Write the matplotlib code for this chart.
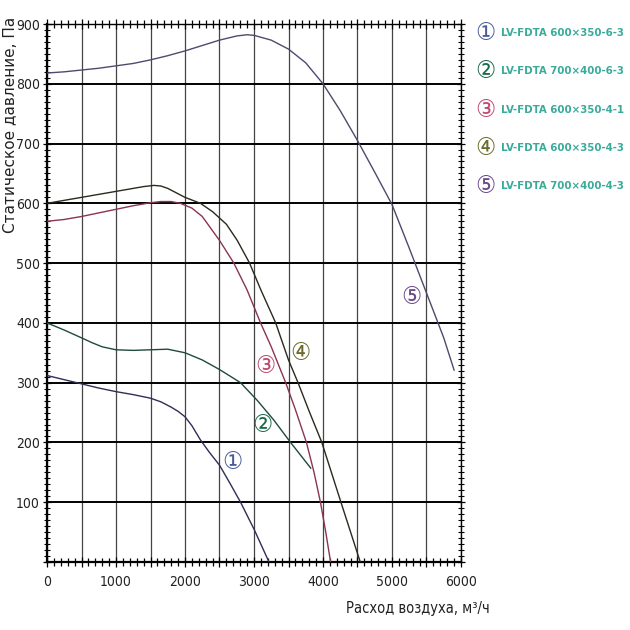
import numpy as np
import matplotlib
matplotlib.use("Agg")
import matplotlib.pyplot as plt

# fan curves: air flow (m3/h) vs static pressure (Pa)
flow_1 = [0, 250, 500, 750, 1000, 1250, 1500, 1650, 1800, 1900, 2000, 2100, 2225, 2350, 2500, 2650, 2805,
          3000, 3217]
pres_1 = [312, 305, 298, 291, 285, 280, 274, 268, 259, 252, 243, 228, 204, 184, 162, 132, 100,
          55, 0]

flow_2 = [0, 250, 500, 650, 800, 1000, 1250, 1500, 1750, 2000, 2250, 2500, 2805, 3050, 3290, 3530, 3823]
pres_2 = [400, 388, 375, 367, 360, 355, 354, 355, 356, 350, 338, 322, 300, 270, 237, 200, 157]

flow_3 = [0, 250, 500, 750, 1000, 1250, 1500, 1650, 1800, 1933, 2100, 2250, 2500, 2708, 2900, 3095, 3250, 3459,
          3600, 3760, 3870, 3963, 4040, 4110]
pres_3 = [570, 573, 578, 584, 590, 596, 601, 603, 603, 600, 592, 578, 538, 500, 455, 400, 360, 300,
          255, 200, 150, 100, 50, 0]

flow_4 = [0, 250, 500, 750, 1000, 1250, 1400, 1550, 1650, 1750, 1850, 2000, 2224, 2400, 2600, 2757, 2936,
          3100, 3314, 3500, 3638, 3800, 3983, 4260, 4540]
pres_4 = [600, 605, 610, 615, 620, 625, 628, 630, 629, 625, 619, 610, 600, 586, 565, 538, 500,
          455, 400, 338, 300, 252, 200, 100, 0]

flow_5 = [0, 250, 500, 750, 1000, 1250, 1500, 1750, 2000, 2250, 2500, 2750, 2900, 3000, 3250, 3500, 3750, 4000,
          4250, 4500, 4750, 5000, 5250, 5500, 5750, 5900]
pres_5 = [818, 820, 823, 826, 830, 834, 840, 847, 855, 864, 873, 880, 882, 881, 873, 858, 835, 800,
          755, 705, 652, 598, 525, 450, 375, 321]

models = ["LV-FDTA 600×350-6-3", "LV-FDTA 700×400-6-3", "LV-FDTA 600×350-4-1",
          "LV-FDTA 600×350-4-3", "LV-FDTA 700×400-4-3"]
marks = ["①", "②", "③", "④", "⑤"]

line_colors = ["#2e2e58", "#1f4a3c", "#8a3454", "#2a2a1e", "#4e4a6e"]
mark_colors = ["#4a5a9a", "#1a6a4a", "#c04a70", "#6a6a2a", "#6a4a8a"]

narrow = dict(family=["DejaVu Sans"], stretch="condensed")

fig = plt.figure(figsize=(6.3, 6.3), dpi=100)
ax = fig.add_axes([47 / 630, 68 / 630, 414 / 630, 538 / 630])

curves = [(flow_1, pres_1), (flow_2, pres_2), (flow_3, pres_3), (flow_4, pres_4), (flow_5, pres_5)]
for (fx, py), c in zip(curves, line_colors):
    ax.plot(fx, py, color=c, lw=1.0, zorder=3)

ax.set_xlim(0, 6000)
ax.set_ylim(0, 900)

# grid: thick horizontal every 100 Pa, thinner vertical every 500 m3/h
ax.set_yticks(np.arange(0, 901, 100))
ax.set_yticklabels([""] + [str(v) for v in range(100, 901, 100)])
ax.set_xticks(np.arange(0, 6001, 500))
ax.set_xticklabels([str(v) if v % 1000 == 0 else "" for v in range(0, 6001, 500)])
ax.set_xticks(np.arange(0, 6001, 100), minor=True)
ax.set_yticks(np.arange(0, 901, 10), minor=True)
ax.yaxis.grid(True, which="major", color="black", lw=1.4, zorder=1)
ax.xaxis.grid(True, which="major", color="#444444", lw=0.9, zorder=1)

ax.tick_params(axis="both", which="both", top=True, right=True)
ax.tick_params(axis="x", which="major", direction="inout", length=7, width=0.9, pad=6)
ax.tick_params(axis="x", which="minor", direction="inout", length=6, width=0.9)
ax.tick_params(axis="y", which="major", direction="inout", length=6, width=0.9, pad=2)
ax.tick_params(axis="y", which="minor", direction="inout", length=5, width=0.8)
ax.tick_params(axis="x", which="both", labeltop=False)
ax.tick_params(axis="y", which="both", labelright=False)
for lab in ax.get_xticklabels() + ax.get_yticklabels():
    lab.set_family(narrow["family"])
    lab.set_stretch(narrow["stretch"])
    lab.set_fontsize(10)
    lab.set_color("#222222")

for side in ["left", "bottom"]:
    ax.spines[side].set_linewidth(1.6)
for side in ["top", "right"]:
    ax.spines[side].set_linewidth(1.0)

fig.text(11 / 630, 1 - 17 / 630, "Статическое давление, Па", rotation=90, ha="center", va="top",
         fontsize=11, color="#222222")
fig.text(490 / 630, 1 - 608 / 630, "Расход воздуха, м³/ч", ha="right", va="center",
         fontsize=10.5, color="#222222", **narrow)

# circled curve numbers inside the plot
label_at = [(2690, 167), (3125, 229), (3170, 328), (3677, 350), (5276, 443)]
for (lx, ly), m, c in zip(label_at, marks, mark_colors):
    ax.text(lx, ly, m, fontsize=18, color=c, ha="center", va="center", zorder=4, **narrow)

# legend on the right
for i, (m, name, c) in enumerate(zip(marks, models, mark_colors)):
    y = 1 - (33 + i * 38.3) / 630
    fig.text(485 / 630, y, m, fontsize=18, color=c, ha="center", va="center", **narrow)
    fig.text(501 / 630, y, name, fontsize=8.2, fontweight="bold",
             color="#3aab9b", ha="left", va="center", **narrow)

fig.savefig("out.png", dpi=100)
